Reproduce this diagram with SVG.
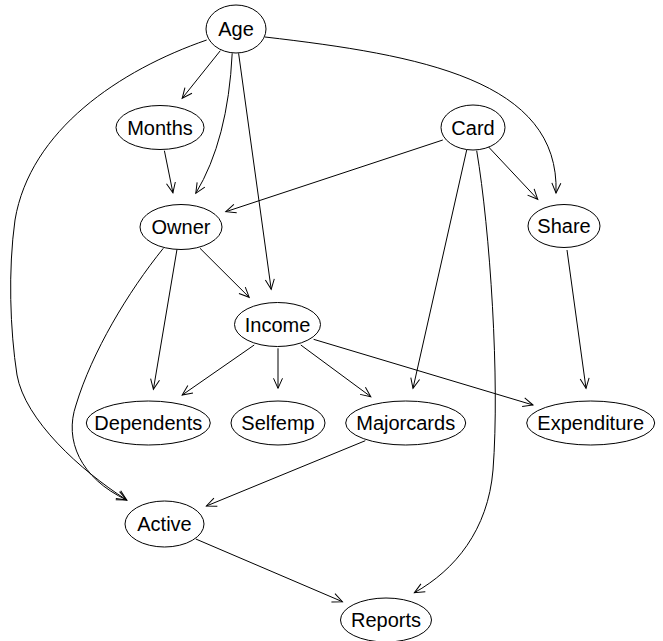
<svg xmlns="http://www.w3.org/2000/svg" width="663" height="641" viewBox="0 0 663 641">
<style>
.node ellipse{fill:#fff;stroke:#000;stroke-width:1}
.node text{font-family:"Liberation Sans",Arial,sans-serif;font-size:20px;text-anchor:middle;fill:#000}
.edges path{fill:none;stroke:#000;stroke-width:1;marker-end:url(#arr)}
</style>
<defs>
<marker id="arr" markerUnits="userSpaceOnUse" markerWidth="14" markerHeight="14" viewBox="-12 -7 14 14" refX="0" refY="0" orient="auto" overflow="visible">
<path d="M-10,-4.5 L0,0 L-10,4.5" fill="none" stroke="#000" stroke-width="1"/>
</marker>
</defs>
<rect width="663" height="641" fill="#fff"/>
<g class="edges">
<path d="M220.3,50.7 L182.2,98.3"/>
<path d="M232.2,53.3 Q228,140 195.8,193.3"/>
<path d="M238.6,53.3 L271.2,289.3"/>
<path d="M265,37 C420,55 560,80 556,193"/>
<path d="M206.7,40 C120,70 30,130 15,220 C8,270 10,330 17,375 C25,420 80,470 126.7,500"/>
<path d="M164.4,150.7 L172.9,192.7"/>
<path d="M442.8,140 L225.8,211.7"/>
<path d="M488.3,146.7 L537.7,199.3"/>
<path d="M466.7,150 L413,388.3"/>
<path d="M476.7,150.7 C490,230 500,380 493,470 C488,530 455,570 414.4,592.7"/>
<path d="M177,249.3 L153.4,389.3"/>
<path d="M200,248.3 L249.2,297.3"/>
<path d="M163.3,248.3 C128,292 92,352 76,405 C64,440 80,478 126.7,500"/>
<path d="M254.2,345 L182.2,395"/>
<path d="M278,348.3 L278,388.3"/>
<path d="M300.8,345 L370.8,396.7"/>
<path d="M313.6,339.3 L533,405"/>
<path d="M567,250 L586,388.3"/>
<path d="M365.3,440.7 L206.4,506"/>
<path d="M195.8,539 L342.4,601.7"/>
</g>
<g id="Age" class="node"><ellipse cx="236" cy="29" rx="30" ry="24"/><text x="236" y="36">Age</text></g>
<g id="Months" class="node"><ellipse cx="160" cy="127.5" rx="44" ry="22"/><text x="160" y="134.5">Months</text></g>
<g id="Card" class="node"><ellipse cx="473" cy="127.5" rx="32" ry="22.5"/><text x="473" y="134.5">Card</text></g>
<g id="Owner" class="node"><ellipse cx="181" cy="227" rx="41" ry="22.5"/><text x="181" y="234">Owner</text></g>
<g id="Share" class="node"><ellipse cx="564" cy="226" rx="36" ry="21.5"/><text x="564" y="233">Share</text></g>
<g id="Income" class="node"><ellipse cx="277.5" cy="324.5" rx="43" ry="22"/><text x="277.5" y="331.5">Income</text></g>
<g id="Dependents" class="node"><ellipse cx="148.3" cy="423" rx="62" ry="22"/><text x="148.3" y="430">Dependents</text></g>
<g id="Selfemp" class="node"><ellipse cx="278" cy="423" rx="47" ry="22"/><text x="278" y="430">Selfemp</text></g>
<g id="Majorcards" class="node"><ellipse cx="405.7" cy="423" rx="60" ry="22"/><text x="405.7" y="430">Majorcards</text></g>
<g id="Expenditure" class="node"><ellipse cx="590.7" cy="423" rx="64" ry="22"/><text x="590.7" y="430">Expenditure</text></g>
<g id="Active" class="node"><ellipse cx="164.5" cy="524" rx="39.5" ry="23"/><text x="164.5" y="531">Active</text></g>
<g id="Reports" class="node"><ellipse cx="386" cy="620" rx="45.5" ry="22"/><text x="386" y="627">Reports</text></g>
</svg>
